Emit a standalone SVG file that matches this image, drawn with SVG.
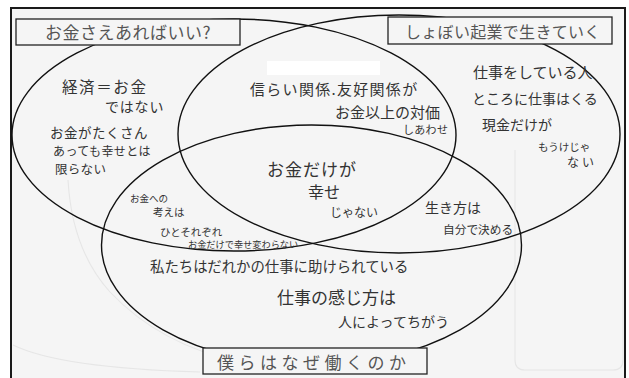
<svg xmlns="http://www.w3.org/2000/svg" width="629" height="378" viewBox="0 0 629 378">
  <style>
    text { font-family: "Noto Sans CJK JP", "Noto Sans", sans-serif; fill: #333; }
    .title { fill: #555; }
    .set { fill: none; stroke: #111; stroke-width: 1.4; }
    .box { fill: #f5f5f5; stroke: #222; stroke-width: 1.3; }
    .faint { fill: none; stroke: #e6e6e6; stroke-width: 1.1; }
  </style>
  <rect x="0" y="0" width="629" height="378" fill="#ffffff"/>
  <rect x="11" y="8" width="614" height="372" fill="#f5f5f5"/>
  <!-- faint template marks on the paper -->
  <g id="paper-marks">
    <path class="faint" d="M68,180 Q72,250 110,292 Q160,345 240,362"/>
    <path class="faint" d="M13,345 Q60,368 200,372"/>
    <path class="faint" d="M515,150 V360 Q515,370 525,370 H613 Q623,370 623,360 V150"/>
    <rect x="267" y="61" width="113" height="14" fill="#ffffff"/>
  </g>
  <!-- frame -->
  <path d="M11,380 V8 H625 V380" fill="none" stroke="#1a1a1a" stroke-width="2"/>

  <g id="connectors"></g>

  <g id="set-money">
    <ellipse class="set" cx="234" cy="135" rx="222" ry="116"/>
  </g>
  <g id="set-startup">
    <ellipse class="set" cx="399" cy="134" rx="221" ry="119"/>
  </g>
  <g id="set-work">
    <ellipse class="set" cx="311.5" cy="245" rx="210" ry="120"/>
  </g>

  <g id="label-money">
    <rect class="box" x="16" y="19" width="224" height="26"/>
    <text class="title" x="45" y="39" font-size="17" letter-spacing="0.5">お金さえあればいい?</text>
  </g>
  <g id="label-startup">
    <rect class="box" x="388" y="17" width="224" height="27"/>
    <text class="title" x="405" y="38" font-size="16" letter-spacing="0.3">しょぼい起業で生きていく</text>
  </g>
  <g id="label-work">
    <rect class="box" x="203" y="348" width="224" height="26"/>
    <text class="title" x="217" y="369" font-size="17" letter-spacing="4.5">僕らはなぜ働くのか</text>
  </g>

  <g id="region-money">
    <text x="62" y="93" font-size="15.5" letter-spacing="1.6">経済＝お金</text>
    <text x="105" y="112" font-size="14" letter-spacing="0.8">ではない</text>
    <text x="50" y="138" font-size="13.5" letter-spacing="0.5">お金がたくさん</text>
    <text x="53" y="155.5" font-size="12" letter-spacing="0.4">あっても幸せとは</text>
    <text x="55" y="174" font-size="12.5" letter-spacing="0.3">限らない</text>
  </g>
  <g id="region-money-startup">
    <text x="250" y="95" font-size="15" letter-spacing="1.3">信らい関係.友好関係が</text>
    <text x="335" y="118" font-size="15">お金以上の対価</text>
    <text x="403" y="134" font-size="11" letter-spacing="0.3">しあわせ</text>
  </g>
  <g id="region-startup">
    <text x="473" y="78" font-size="15">仕事をしている人</text>
    <text x="472" y="104" font-size="14">ところに仕事はくる</text>
    <text x="482" y="130" font-size="14">現金だけが</text>
    <text x="538" y="151" font-size="10.5">もうけじゃ</text>
    <text x="567" y="167" font-size="12" letter-spacing="3">ない</text>
  </g>
  <g id="region-center">
    <text x="267" y="176" font-size="17" letter-spacing="1">お金だけが</text>
    <text x="308" y="198" font-size="16">幸せ</text>
    <text x="330" y="217" font-size="12">じゃない</text>
  </g>
  <g id="region-money-work">
    <text x="130" y="202" font-size="9.5">お金への</text>
    <text x="153" y="216" font-size="10.5">考えは</text>
    <text x="160" y="236" font-size="10.5">ひとそれぞれ</text>
    <text x="188" y="248" font-size="9.2">お金だけで幸せ変わらない</text>
  </g>
  <g id="region-startup-work">
    <text x="425" y="213" font-size="14">生き方は</text>
    <text x="443" y="234" font-size="11.7">自分で決める</text>
  </g>
  <g id="region-work">
    <text x="150" y="272" font-size="14.4">私たちはだれかの仕事に助けられている</text>
    <text x="277" y="304" font-size="17">仕事の感じ方は</text>
    <text x="338" y="327" font-size="14">人によってちがう</text>
  </g>
</svg>
